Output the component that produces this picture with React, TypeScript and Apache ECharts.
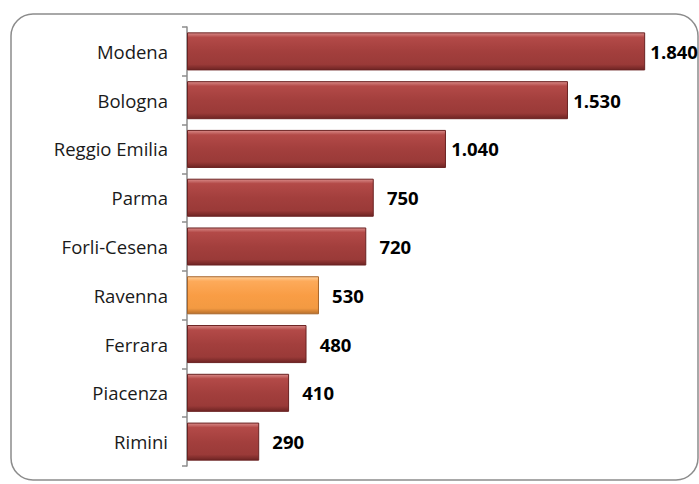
import React, { useEffect, useRef } from "react";
import * as echarts from "echarts";

const categories = ["Modena", "Bologna", "Reggio Emilia", "Parma", "Forli-Cesena", "Ravenna", "Ferrara", "Piacenza", "Rimini"];
const values = [1840, 1530, 1040, 750, 720, 530, 480, 410, 290];
const highlighted = "Ravenna";

const redGradient = new echarts.graphic.LinearGradient(0, 0, 0, 1, [
  { offset: 0, color: "#d98a88" },
  { offset: 0.12, color: "#b34a48" },
  { offset: 0.5, color: "#a33f3d" },
  { offset: 0.85, color: "#9a3a38" },
  { offset: 1, color: "#6e2423" },
]);
const orangeGradient = new echarts.graphic.LinearGradient(0, 0, 0, 1, [
  { offset: 0, color: "#ffd09a" },
  { offset: 0.12, color: "#fdaa5a" },
  { offset: 0.5, color: "#f99d45" },
  { offset: 0.85, color: "#f39a42" },
  { offset: 1, color: "#b8702c" },
]);

const fmt = (v: number) => v.toString().replace(/\B(?=(\d{3})+(?!\d))/g, ".");

export default function App() {
  const ref = useRef<HTMLDivElement>(null);
  useEffect(() => {
    const chart = echarts.init(ref.current!, null, { renderer: "svg" });
    chart.setOption({
      animation: false,
      backgroundColor: "#ffffff",
      graphic: [
        {
          type: "rect",
          shape: { x: 11, y: 14, width: 687, height: 466, r: 22 },
          style: { fill: "none", stroke: "#8c8c8c", lineWidth: 1.5 },
          z: -1,
        },
      ],
      grid: { left: 187, top: 27, bottom: 18, width: 498 },
      xAxis: {
        type: "value",
        min: 0,
        max: 2000,
        show: false,
      },
      yAxis: {
        type: "category",
        data: categories,
        inverse: true,
        offset: 1,
        axisLine: { show: true, lineStyle: { color: "#8c8c8c", width: 1.5 } },
        axisTick: { show: true, length: 5, lineStyle: { color: "#8c8c8c", width: 1.5 } },
        axisLabel: {
          margin: 18,
          fontSize: 18.5,
          color: "#1a1a1a",
          fontFamily: "Open Sans",
        },
      },
      series: [
        {
          type: "bar",
          barWidth: "78%",
          data: values.map((v, i) => ({
            value: v,
            itemStyle: {
              color: categories[i] === highlighted ? orangeGradient : redGradient,
              borderColor: categories[i] === highlighted ? "#a8652a" : "#6a2222",
              borderWidth: 1,
            },
          })),
          label: {
            show: true,
            position: "right",
            distance: 29,
            align: "center",
            fontSize: 18.5,
            fontWeight: "bold",
            color: "#000",
            fontFamily: "Open Sans",
            formatter: (p: any) => fmt(p.value),
          },
        },
      ],
    });
    return () => chart.dispose();
  }, []);
  return <div ref={ref} style={{ position: "fixed", left: 0, top: 0, width: 699, height: 484 }} />;
}
